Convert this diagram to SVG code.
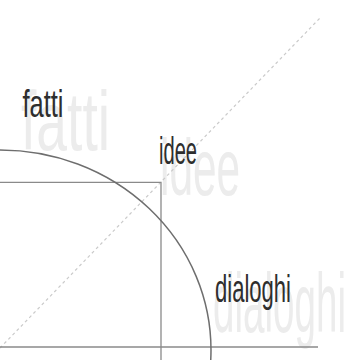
<svg xmlns="http://www.w3.org/2000/svg" width="350" height="360" viewBox="0 0 350 360">
<style>
.ghost{font-family:"Liberation Sans",Arial,sans-serif;fill:#ececec;font-weight:normal}
.lbl{font-family:"Liberation Sans",Arial,sans-serif;fill:#2e2e2e;font-size:39px}
.ln{stroke:#8a8a8a;stroke-width:1.3;fill:none}
</style>
<rect width="350" height="360" fill="#fff"/>
<g id="ghosts">
<text class="ghost" x="21" y="150" font-size="84" textLength="89" lengthAdjust="spacingAndGlyphs">fatti</text>
<text class="ghost" x="160" y="195" font-size="80" textLength="80" lengthAdjust="spacingAndGlyphs">idee</text>
<text class="ghost" x="213" y="332" font-size="84" textLength="133" lengthAdjust="spacingAndGlyphs">dialoghi</text>
</g>
<g id="connectors">
<line x1="0" y1="348" x2="320" y2="18" stroke="#cacaca" stroke-width="1.2" stroke-dasharray="3 3"/>
<polyline class="ln" points="0,182.3 161,182.3 161,360"/>
<line class="ln" x1="0" y1="347" x2="318" y2="347"/>
<ellipse cx="0" cy="350" rx="211" ry="200" fill="none" stroke="#6e6e6e" stroke-width="1.5"/>
</g>
<g id="node-fatti"><text class="lbl" x="22.5" y="116.7" textLength="41" lengthAdjust="spacingAndGlyphs">fatti</text></g>
<g id="node-idee"><text class="lbl" x="159" y="164.3" font-size="37" textLength="38" lengthAdjust="spacingAndGlyphs">idee</text></g>
<g id="node-dialoghi"><text class="lbl" x="215" y="302" textLength="76" lengthAdjust="spacingAndGlyphs">dialoghi</text></g>
</svg>
